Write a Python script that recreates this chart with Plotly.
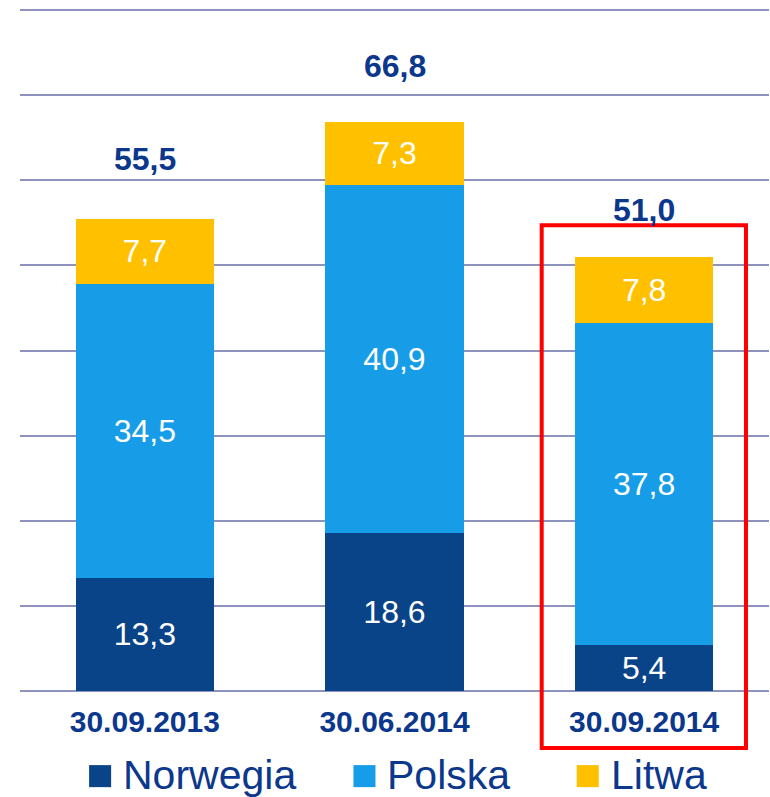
import plotly.graph_objects as go

categories = ["30.09.2013", "30.06.2014", "30.09.2014"]
series_names = ["Norwegia", "Polska", "Litwa"]
norwegia = [13.3, 18.6, 5.4]
polska = [34.5, 40.9, 37.8]
litwa = [7.7, 7.3, 7.8]
colors = ["#0A4488", "#179DE8", "#FFC000"]
navy = "#0B388C"
font_family = "Arial, Liberation Sans, sans-serif"

fig = go.Figure()
for name, vals, col in zip(series_names, [norwegia, polska, litwa], colors):
    fig.add_trace(go.Bar(
        x=categories, y=vals, name=name, marker=dict(color=col, line=dict(width=0)),
        width=0.555, text=vals, texttemplate="%{y:.1f}", textposition="inside",
        insidetextanchor="middle", textangle=0,
        textfont=dict(color="white", size=32, family=font_family),
        showlegend=False, hoverinfo="skip",
    ))

totals = [round(a + b + c, 1) for a, b, c in zip(norwegia, polska, litwa)]
total_shift = [60, 56, 47]
for cat, tot, sh in zip(categories, totals, total_shift):
    fig.add_annotation(x=cat, y=tot, yshift=sh, text=f"<b>{tot:.1f}</b>".replace(".", ","),
                       showarrow=False, yanchor="middle", xanchor="center",
                       font=dict(size=32, color=navy, family=font_family))

# Highlight box around last category
fig.add_shape(type="rect", xref="paper", yref="paper",
              x0=(542 - 21) / 748, x1=(746 - 21) / 748,
              y0=(691 - 748) / 681, y1=(691 - 226) / 681,
              line=dict(color="#FF0000", width=4), fillcolor="rgba(0,0,0,0)")

# Manual legend
legend_x = [90, 354, 577]
for name, col, lx in zip(series_names, colors, legend_x):
    fig.add_shape(type="rect", xref="paper", yref="paper",
                  x0=(lx - 21) / 748, x1=(lx + 22 - 21) / 748,
                  y0=(691 - 787) / 681, y1=(691 - 765) / 681,
                  line=dict(width=0), fillcolor=col)
    fig.add_annotation(xref="paper", yref="paper", x=(lx + 32 - 21) / 748,
                       y=(691 - 775) / 681, text=name, showarrow=False,
                       xanchor="left", yanchor="middle",
                       font=dict(size=41, color=navy, family=font_family))

fig.update_layout(
    width=770, height=797, barmode="stack", separators=", ",
    margin=dict(l=20, r=1, t=9, b=106),
    plot_bgcolor="white", paper_bgcolor="white",
    font=dict(family=font_family),
    xaxis=dict(showgrid=False, showline=False, ticks="",
               tickfont=dict(size=30, color=navy, family=font_family),
               ticktext=[f"<b>{c}</b>" for c in categories], tickvals=categories,
               ticklabelstandoff=10),
    yaxis=dict(range=[0, 80.12], dtick=10, showticklabels=False, showgrid=True,
               gridcolor="#8E93BE", gridwidth=2, zeroline=True,
               zerolinecolor="#8E93BE", zerolinewidth=2, showline=False),
)

fig.write_html("out.html", config={"displayModeBar": False},
               post_script="document.body.style.margin='0';document.body.style.overflow='hidden';")
